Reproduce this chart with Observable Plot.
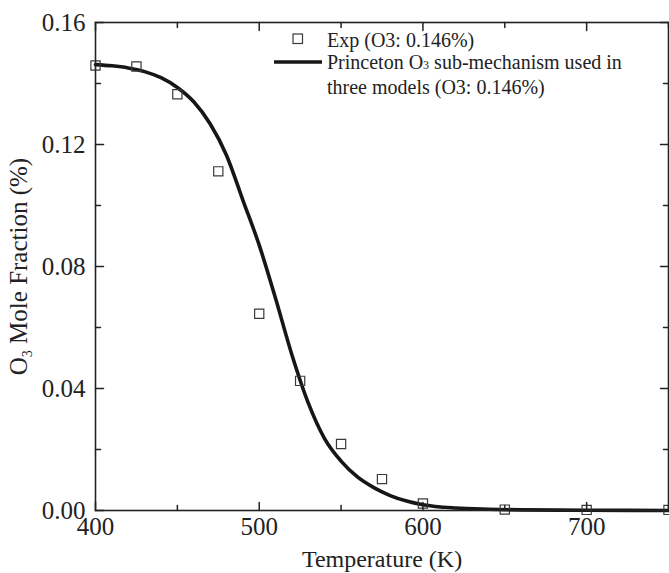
<!DOCTYPE html>
<html>
<head>
<meta charset="utf-8">
<script src="https://cdn.jsdelivr.net/npm/d3@7"></script>
<script src="https://cdn.jsdelivr.net/npm/@observablehq/plot@0.6"></script>
<style>
  html, body { margin: 0; padding: 0; background: #fff; }
  #chart { width: 669px; height: 573px; }
</style>
</head>
<body>
<div id="chart"></div>
<script>
// Experimental points (Temperature K, O3 mole fraction %)
const expT = [400, 425, 450, 475, 500, 525, 550, 575, 600, 650, 700, 750];
const expV = [0.1459, 0.1456, 0.1365, 0.1112, 0.0645, 0.0425, 0.0218, 0.0103, 0.0023, 0.0003, 0.0002, 0.0002];

// Model curve (Princeton O3 sub-mechanism)
const modT = [400, 410, 420, 430, 440, 450, 460, 470, 480, 490, 500, 510, 520, 530, 540, 550, 560, 570, 580, 590, 600, 620, 640, 660, 700, 750];
const modV = [0.1462, 0.1458, 0.1451, 0.1439, 0.1419, 0.1387, 0.1340, 0.1268, 0.1165, 0.1018, 0.0870, 0.0695, 0.0510, 0.0352, 0.0235, 0.0162, 0.0110, 0.0075, 0.0049, 0.0031, 0.0019, 0.0008, 0.0004, 0.0002, 0.0001, 0.0000];

const xMajor = [400, 500, 600, 700];
const xMinor = [450, 550, 650, 750];
const yMajor = [0, 0.04, 0.08, 0.12, 0.16];
const yMinor = [0.02, 0.06, 0.10, 0.14];

const expData = expT.map((t, i) => ({T: t, v: expV[i]}));
const modData = modT.map((t, i) => ({T: t, v: modV[i]}));

const serif = "Liberation Serif";
const tickShape = {draw(context, l) { context.moveTo(0, 0); context.lineTo(0, -l); }};
const ink = "#222";
const tickOpts = (len) => ({length: len, anchor: "start", shape: tickShape, stroke: ink, strokeWidth: 1.5});

const chart = Plot.plot({
  width: 669,
  height: 573,
  marginLeft: 95,
  marginRight: 1,
  marginTop: 22,
  marginBottom: 63,
  style: {background: "#fff", color: ink},
  x: {domain: [400, 750]},
  y: {domain: [0, 0.16]},
  marks: [
    Plot.line(modData, {x: "T", y: "v", stroke: "#161616", strokeWidth: 3.6, curve: "monotone-x"}),
    Plot.dot(expData, {x: "T", y: "v", symbol: "square", r: 5.2, stroke: "#3a3a3a", fill: "none", strokeWidth: 1.2}),
    // inward ticks: bottom, top
    Plot.vector(xMajor, {x: d => d, frameAnchor: "bottom", rotate: 0, ...tickOpts(8)}),
    Plot.vector(xMinor, {x: d => d, frameAnchor: "bottom", rotate: 0, ...tickOpts(5)}),
    Plot.vector(xMajor, {x: d => d, frameAnchor: "top", rotate: 180, ...tickOpts(8)}),
    Plot.vector(xMinor, {x: d => d, frameAnchor: "top", rotate: 180, ...tickOpts(5)}),
    // inward ticks: left, right
    Plot.vector(yMajor, {y: d => d, frameAnchor: "left", rotate: 90, ...tickOpts(8)}),
    Plot.vector(yMinor, {y: d => d, frameAnchor: "left", rotate: 90, ...tickOpts(5)}),
    Plot.vector(yMajor, {y: d => d, frameAnchor: "right", rotate: -90, ...tickOpts(8)}),
    Plot.vector(yMinor, {y: d => d, frameAnchor: "right", rotate: -90, ...tickOpts(5)}),
    Plot.frame({stroke: ink, strokeWidth: 1.6}),
    Plot.axisX({ticks: xMajor, tickSize: 0, tickPadding: 7, fontSize: 25, fontFamily: serif, tickFormat: d => String(d),
      label: "Temperature (K)", labelAnchor: "center", labelOffset: 56, labelArrow: false}),
    Plot.axisY({ticks: yMajor, tickSize: 0, tickPadding: 10, fontSize: 25, fontFamily: serif, tickFormat: d => d.toFixed(2),
      label: "O3 Mole Fraction (%)", labelAnchor: "center", labelOffset: 86, labelArrow: false})
  ]
});

document.getElementById("chart").appendChild(chart);

const svg = d3.select(chart);
svg.style("font-family", serif);

// y-axis label with subscript; x label size; force serif
svg.selectAll("text").each(function() {
  const t = d3.select(this);
  t.attr("font-family", serif).style("font-family", serif, "important");
  if (t.text() === "O3 Mole Fraction (%)") {
    t.text(null).attr("font-size", 25);
    t.append("tspan").text("O");
    t.append("tspan").attr("font-size", 14).attr("dy", "0.35em").text("3");
    t.append("tspan").attr("dy", "-0.2em").text(" Mole Fraction (%)");
  }
  if (t.text() === "Temperature (K)") {
    t.attr("font-size", 24);
  }
});

// Legend
const lg = svg.append("g")
  .attr("font-family", serif)
  .attr("font-size", 20)
  .attr("text-anchor", "start")
  .attr("fill", ink);
lg.append("rect").attr("x", 293).attr("y", 34).attr("width", 9.5).attr("height", 9.5)
  .attr("fill", "none").attr("stroke", "#3a3a3a").attr("stroke-width", 1.2);
lg.append("text").attr("x", 327).attr("y", 47).text("Exp (O3: 0.146%)");
lg.append("line").attr("x1", 274).attr("x2", 322).attr("y1", 62).attr("y2", 62)
  .attr("stroke", "#161616").attr("stroke-width", 3.6);
const t2 = lg.append("text").attr("x", 327).attr("y", 69);
t2.append("tspan").text("Princeton O");
t2.append("tspan").attr("font-size", 12).text("3");
t2.append("tspan").text(" sub-mechanism used in");
lg.append("text").attr("x", 327).attr("y", 94).text("three models (O3: 0.146%)");
</script>
</body>
</html>
